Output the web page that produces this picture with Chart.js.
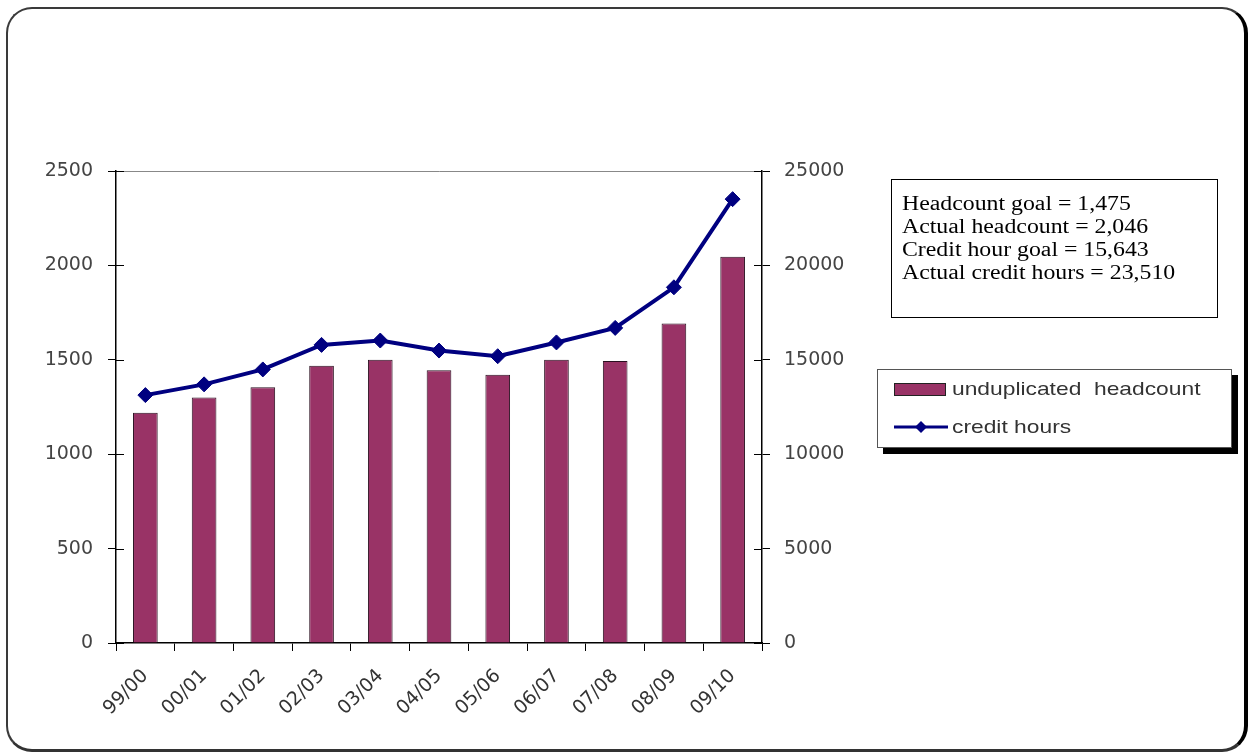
<!DOCTYPE html>
<html>
<head>
<meta charset="utf-8">
<title>headcount / credit hours</title>
<script src="https://cdn.jsdelivr.net/npm/chart.js@4.4.1/dist/chart.umd.min.js"></script>
<style>
  html, body { margin:0; padding:0; background:#fff; }
  #wrap { position:relative; width:1251px; height:756px; overflow:hidden; }
  #frame {
    position:absolute; left:6px; top:7px; width:1236px; height:740px;
    border:2px solid #3a3a3a; border-right:4px solid #000; border-bottom:3px solid #333;
    border-radius:26px;
  }
  #myChart { position:absolute; left:0; top:0; }
  #note {
    position:absolute; left:891px; top:179px; width:325px; height:137px;
    border:1px solid #000; background:#fff;
    font-family:"Liberation Serif", "Times New Roman", serif; font-size:20px; line-height:23px; color:#000;
  }
  #note div { transform:scaleX(1.19); transform-origin:left; white-space:pre; margin-left:10px; }
  #note .first { margin-top:12px; }
  #legend {
    position:absolute; left:877px; top:369px; width:353px; height:77px;
    border:1px solid #555; background:#fff; box-shadow:6px 6px 0 #000;
    font-family:"Liberation Sans", Arial, sans-serif; font-size:19px; color:#333;
  }
  .row { position:absolute; left:0; height:24px; width:100%; }
  .row span.txt { position:absolute; left:74px; top:0; line-height:24px; white-space:pre; transform:scaleX(1.2); transform-origin:left; }
  .sw { position:absolute; left:16px; }
</style>
</head>
<body>
<div id="wrap">
  <div id="frame"></div>
  <canvas id="myChart" width="1251" height="756"></canvas>
  <div id="note"></div>
  <div id="legend">
    <div class="row" style="top:7px">
      <div class="sw" id="sw_bar" style="top:6px;width:50px;height:11px;border:1px solid #222;"></div>
      <span class="txt" id="lg_0"></span>
    </div>
    <div class="row" style="top:45px">
      <canvas class="sw" id="sw_line" width="56" height="24" style="left:15px;top:0"></canvas>
      <span class="txt" id="lg_1"></span>
    </div>
  </div>
</div>
<script>
// data
const years = ['99/00','00/01','01/02','02/03','03/04','04/05','05/06','06/07','07/08','08/09','09/10']
const headcount = [1220,1300,1355,1468,1500,1444,1421,1500,1493,1692,2046]
const creditHours = [13130,13700,14490,15790,16020,15490,15190,15920,16690,18840,23510]
const headcountLabel = 'unduplicated  headcount'
const creditLabel = 'credit hours'
const noteLines = [
  'Headcount goal = 1,475',
  'Actual headcount = 2,046',
  'Credit hour goal = 15,643',
  'Actual credit hours = 23,510',
]
const leftMax = 2500, leftStep = 500
const rightMax = 25000, rightStep = 5000

const barColor = '#993366'
const lineColor = '#000080'
const tickFont = { family:'"DejaVu Sans", sans-serif', size:19 }

// ticks that cross the value axes (inner half)
const crossTicks = {
  id:'crossTicks',
  afterDraw(chart){
    const ctx = chart.ctx
    const area = chart.chartArea
    ctx.save()
    ctx.strokeStyle = '#000'
    ctx.lineWidth = 1
    ;['y','y1'].forEach((id)=>{
      const sc = chart.scales[id]
      const x0 = id==='y' ? area.left : area.right
      const dx = id==='y' ? 8 : -8
      sc.ticks.forEach((t,i)=>{
        const py = Math.round(sc.getPixelForTick(i)) + 0.5
        ctx.beginPath()
        ctx.moveTo(x0, py)
        ctx.lineTo(x0 + dx, py)
        ctx.stroke()
      })
    })
    ctx.restore()
  }
}

const plain = (v) => String(v)

const chart = new Chart(document.getElementById('myChart'), {
  data:{
    labels: years,
    datasets:[
      {
        type:'line', label:creditLabel, data:creditHours, yAxisID:'y1', order:0,
        borderColor:lineColor, borderWidth:4, tension:0,
        pointStyle:'rectRot', pointRadius:7.5, pointBackgroundColor:lineColor, pointBorderColor:lineColor, pointBorderWidth:1,
      },
      {
        type:'bar', label:headcountLabel, data:headcount, yAxisID:'y', order:1,
        backgroundColor:barColor, borderColor:'#2a1020', borderWidth:1,
        barPercentage:0.42, categoryPercentage:1,
      },
    ]
  },
  options:{
    responsive:false,
    animation:false,
    layout:{ padding:{ left:0, top:171, right:389, bottom:0 } },
    plugins:{ legend:{ display:false }, tooltip:{ enabled:false } },
    scales:{
      x:{
        offset:true,
        grid:{ offset:true, drawOnChartArea:false, tickLength:8, color:'#000', tickColor:'#000' },
        border:{ color:'#000', width:1.5 },
        ticks:{ minRotation:45, maxRotation:45, font:tickFont, color:'#333', padding:14 },
        afterFit:(sc)=>{ sc.height = 113 },
      },
      y:{
        position:'left', min:0, max:leftMax,
        grid:{ drawOnChartArea:true, tickLength:8, tickColor:'#000',
          color:(c)=> c.tick && c.tick.value===leftMax ? '#888' : 'rgba(0,0,0,0)' },
        border:{ color:'#000', width:1.5 },
        ticks:{ stepSize:leftStep, font:tickFont, color:'#444', padding:15, callback:plain },
        afterFit:(sc)=>{ sc.width = 116 },
      },
      y1:{
        position:'right', min:0, max:rightMax,
        grid:{ drawOnChartArea:false, tickLength:8, tickColor:'#000' },
        border:{ color:'#000', width:1.5 },
        ticks:{ stepSize:rightStep, font:tickFont, color:'#444', padding:14, callback:plain },
        afterFit:(sc)=>{ sc.width = 100 },
      },
    }
  },
  plugins:[crossTicks]
})
console.log('chartArea', JSON.stringify(chart.chartArea))

// text box
const note = document.getElementById('note')
noteLines.forEach((s,i)=>{
  const d = document.createElement('div')
  d.textContent = s
  if(i===0) d.className = 'first'
  note.appendChild(d)
})

// legend
document.getElementById('lg_0').textContent = headcountLabel
document.getElementById('lg_1').textContent = creditLabel
document.getElementById('sw_bar').style.background = barColor
const lc = document.getElementById('sw_line').getContext('2d')
lc.strokeStyle = lineColor
lc.lineWidth = 3
lc.beginPath(); lc.moveTo(1,12); lc.lineTo(55,12); lc.stroke()
lc.fillStyle = lineColor
lc.beginPath(); lc.moveTo(28,6); lc.lineTo(34,12); lc.lineTo(28,18); lc.lineTo(22,12); lc.closePath(); lc.fill()
</script>
</body>
</html>
